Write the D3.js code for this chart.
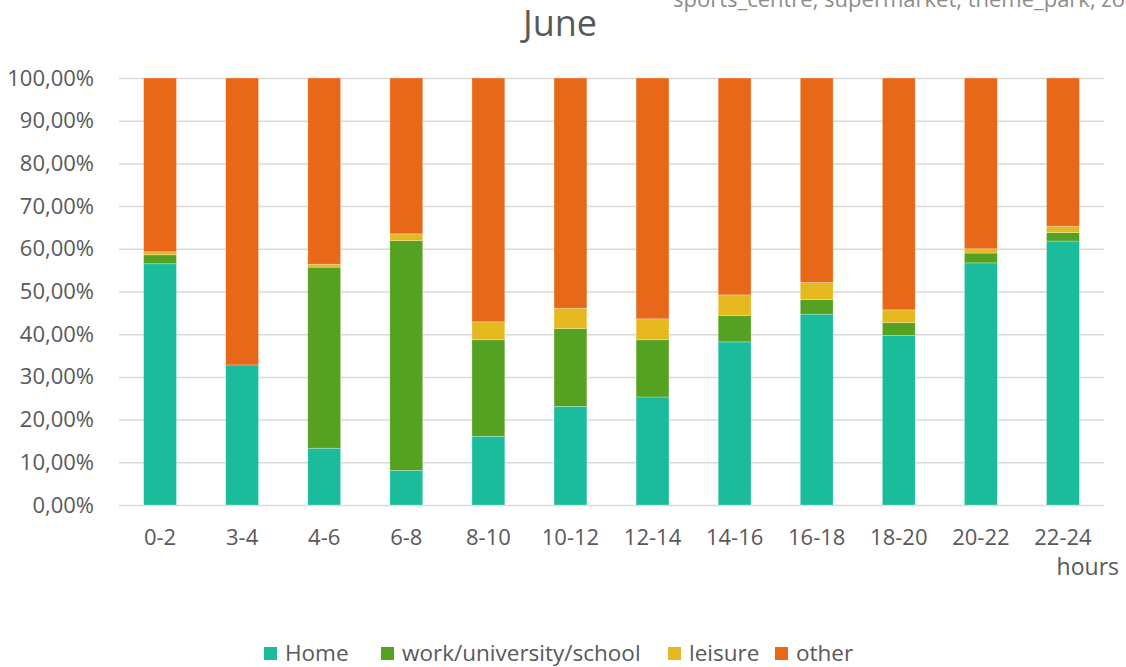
<!DOCTYPE html>
<html>
<head>
<meta charset="utf-8">
<script src="https://cdn.jsdelivr.net/npm/d3@7"></script>
<style>
  html, body { margin: 0; padding: 0; background: #fff; overflow: hidden; }
  text { font-family: "Open Sans", "Noto Sans", sans-serif; fill: #595959; }
</style>
</head>
<body>
<div id="chart"></div>
<script>
// time slots (2 hour windows)
const hours = ['0-2', '3-4', '4-6', '6-8', '8-10', '10-12', '12-14', '14-16', '16-18', '18-20', '20-22', '22-24'];

// share of visits per category, in percent
const home = [56.5, 32.8, 13.3, 8.1, 16.1, 23.1, 25.3, 38.2, 44.7, 39.7, 56.7, 61.8];
const work = [2.1, 0.0, 42.4, 53.8, 22.6, 18.2, 13.4, 6.2, 3.4, 3.0, 2.3, 2.0];
const leisure = [0.7, 0.0, 0.7, 1.6, 4.2, 4.8, 4.9, 4.8, 4.0, 3.0, 1.0, 1.5];
const other = [40.7, 67.2, 43.6, 36.5, 57.1, 53.9, 56.4, 50.8, 47.9, 54.3, 40.0, 34.7];

const seriesNames = ['Home', 'work/university/school', 'leisure', 'other'];
const yTicks = [0, 10, 20, 30, 40, 50, 60, 70, 80, 90, 100];

const colors = ['#1ABC9C', '#55A122', '#E6B820', '#E8681A'];

const width = 1126;
const height = 667;
const margin = { top: 78, right: 22, bottom: 162, left: 119 };

const rows = hours.map((h, i) => ({
  hour: h,
  'Home': home[i],
  'work/university/school': work[i],
  'leisure': leisure[i],
  'other': other[i],
}));

const stacked = d3.stack().keys(seriesNames)(rows);

const svg = d3
  .select('#chart')
  .append('svg')
  .attr('width', width)
  .attr('height', height);

const xScale = d3
  .scaleBand()
  .domain(hours)
  .range([margin.left, width - margin.right])
  .paddingInner(0.6)
  .paddingOuter(0.3);

const yScale = d3
  .scaleLinear()
  .domain([0, 100])
  .range([height - margin.bottom, margin.top]);

const color = d3.scaleOrdinal().domain(seriesNames).range(colors);

// grid
const yAxis = d3
  .axisLeft(yScale)
  .tickValues(yTicks)
  .tickSize(-(width - margin.left - margin.right))
  .tickPadding(25)
  .tickFormat((d) => d3.format('.2f')(d).replace('.', ',') + '%');

svg
  .append('g')
  .attr('class', 'yAxis')
  .attr('transform', `translate(${margin.left},0)`)
  .call(yAxis)
  .call((g) => g.select('.domain').remove())
  .call((g) => g.selectAll('line').attr('stroke', '#d9d9d9').attr('stroke-width', 1.5))
  .call((g) => g.selectAll('text').style('font-size', '22px').attr('fill', '#595959'));

// bars
svg
  .append('g')
  .selectAll('g')
  .data(stacked)
  .enter()
  .append('g')
  .attr('fill', (d) => color(d.key))
  .selectAll('rect')
  .data((d) => d)
  .enter()
  .append('rect')
  .attr('x', (d) => xScale(d.data.hour))
  .attr('y', (d) => yScale(d[1]))
  .attr('width', xScale.bandwidth())
  .attr('height', (d) => Math.max(0, yScale(d[0]) - yScale(d[1])))
  .attr('stroke', 'rgba(255,255,255,0.35)')
  .attr('stroke-width', 0.75);

// x axis labels
const xAxis = d3.axisBottom(xScale).tickSize(0).tickPadding(24);

svg
  .append('g')
  .attr('class', 'xAxis')
  .attr('transform', `translate(0,${height - margin.bottom})`)
  .call(xAxis)
  .call((g) => g.select('.domain').remove())
  .call((g) => g.selectAll('text').style('font-size', '22px').attr('fill', '#595959'));

svg
  .append('text')
  .attr('x', 1119)
  .attr('y', 575)
  .attr('text-anchor', 'end')
  .style('font-size', '23px')
  .text('hours');

// title
svg
  .append('text')
  .attr('x', 560)
  .attr('y', 36)
  .attr('text-anchor', 'middle')
  .style('font-size', '36px')
  .text('June');

// clipped subtitle leaking in from top
svg
  .append('text')
  .attr('x', 673)
  .attr('y', 7)
  .style('font-size', '22px')
  .style('fill', '#8c8c8c')
  .text('sports_centre, supermarket, theme_park, zoo');

// legend
const legendX = [264, 381, 668, 775];
const legend = svg
  .append('g')
  .selectAll('g')
  .data(seriesNames)
  .enter()
  .append('g')
  .attr('transform', (d, i) => `translate(${legendX[i]},647)`);

legend
  .append('rect')
  .attr('width', 13)
  .attr('height', 13)
  .attr('fill', (d) => color(d));

legend
  .append('text')
  .attr('x', 21)
  .attr('y', 14)
  .style('font-size', '22.5px')
  .text((d) => d);
</script>
</body>
</html>
